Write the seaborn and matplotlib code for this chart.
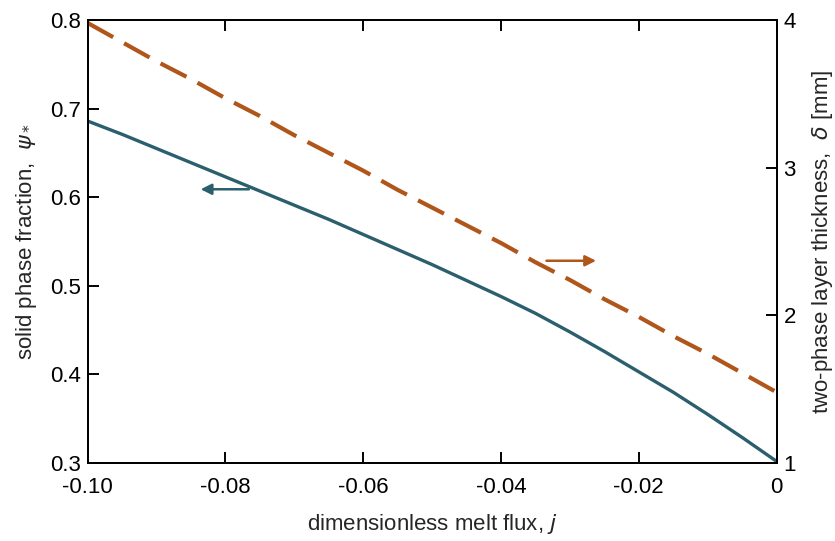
import matplotlib
matplotlib.use("Agg")
import matplotlib.pyplot as plt
import matplotlib.transforms as mtransforms
import numpy as np
import pandas as pd
import seaborn as sns

# data
flux = [-0.100, -0.095, -0.090, -0.085, -0.080, -0.075, -0.070, -0.065, -0.060,
        -0.055, -0.050, -0.045, -0.040, -0.035, -0.030, -0.025, -0.020, -0.015,
        -0.010, -0.005, 0.000]
solid_fraction = [0.686, 0.671, 0.655, 0.639, 0.623, 0.607, 0.591, 0.575, 0.558,
                  0.541, 0.524, 0.506, 0.488, 0.469, 0.448, 0.426, 0.403, 0.380,
                  0.355, 0.329, 0.302]
thickness = [3.98, 3.85, 3.72, 3.60, 3.47, 3.35, 3.22, 3.10, 2.98,
             2.85, 2.73, 2.61, 2.49, 2.36, 2.24, 2.11, 1.99, 1.86,
             1.74, 1.61, 1.48]
x_ticks = [-0.10, -0.08, -0.06, -0.04, -0.02, 0]
x_ticklabels = ['-0.10', '-0.08', '-0.06', '-0.04', '-0.02', '0']
left_ticks = [0.3, 0.4, 0.5, 0.6, 0.7, 0.8]
right_ticks = [1, 2, 3, 4]

blue = '#2b5f6d'
orange = '#b0561a'

df = pd.DataFrame({'j': flux, 'psi': solid_fraction, 'delta': thickness})

sns.set_style("ticks", {'xtick.direction': 'in', 'ytick.direction': 'in',
                        'xtick.color': 'black', 'ytick.color': 'black',
                        'axes.edgecolor': 'black', 'axes.axisbelow': False})
plt.rcParams.update({'xtick.major.size': 8, 'ytick.major.size': 8,
                     'xtick.major.width': 1.2, 'ytick.major.width': 1.2,
                     'xtick.labelsize': 16, 'ytick.labelsize': 16,
                     'xtick.major.pad': 10, 'ytick.major.pad': 5,
                     'xtick.top': True})
plt.rcParams['font.family'] = ['Liberation Sans', 'DejaVu Sans']

fig = plt.figure(figsize=(8.35, 5.41), dpi=100)
ax = fig.add_axes([0.105, 0.144, 0.825, 0.819])
ax2 = ax.twinx()

sns.lineplot(data=df, x='j', y='psi', ax=ax, color=blue, linewidth=2.4)
sns.lineplot(data=df, x='j', y='delta', ax=ax2, color=orange, linewidth=3.0)
ax2.lines[0].set_linestyle((0, (7, 3)))

ax.set_xlim(-0.10, 0)
ax.set_ylim(0.3, 0.8)
ax2.set_ylim(1, 4)

ax.set_xticks(x_ticks)
ax.set_xticklabels(x_ticklabels)
ax.set_yticks(left_ticks)
ax2.set_yticks(right_ticks)

for a in (ax, ax2):
    for s in a.spines.values():
        s.set_linewidth(1.3)
        s.set_color('black')

# inward tick marks, drawn along the axes edges
tx = mtransforms.blended_transform_factory(ax.transData, ax.transAxes)
ty = mtransforms.blended_transform_factory(ax.transAxes, ax.transData)
ty2 = mtransforms.blended_transform_factory(ax2.transAxes, ax2.transData)
ax.vlines(x_ticks, 0, 0.025, transform=tx, color='black', lw=1.2, clip_on=False)
ax.vlines(x_ticks, 0.975, 1, transform=tx, color='black', lw=1.2, clip_on=False)
ax.hlines(left_ticks, 0, 0.016, transform=ty, color='black', lw=1.2, clip_on=False)
ax2.hlines(right_ticks, 0.984, 1, transform=ty2, color='black', lw=1.2,
           clip_on=False)

ax.set_xlabel('dimensionless melt flux, $j$', fontsize=16, labelpad=10)
ax.set_ylabel(r'solid phase fraction,  $\psi_*$', fontsize=16, labelpad=8)
ax2.set_ylabel(r'two-phase layer thickness,  $\delta$ [mm]', fontsize=16,
               labelpad=10)

# arrows pointing to the matching axis
ax.annotate('', xy=(-0.0836, 0.609), xytext=(-0.0766, 0.609),
            arrowprops=dict(arrowstyle='-|>', color=blue, lw=1.8,
                            mutation_scale=16, shrinkA=0, shrinkB=0))
ax2.annotate('', xy=(-0.0262, 2.37), xytext=(-0.0334, 2.37),
             arrowprops=dict(arrowstyle='-|>', color=orange, lw=1.8,
                             mutation_scale=16, shrinkA=0, shrinkB=0))

fig.savefig('out.png', dpi=100)
